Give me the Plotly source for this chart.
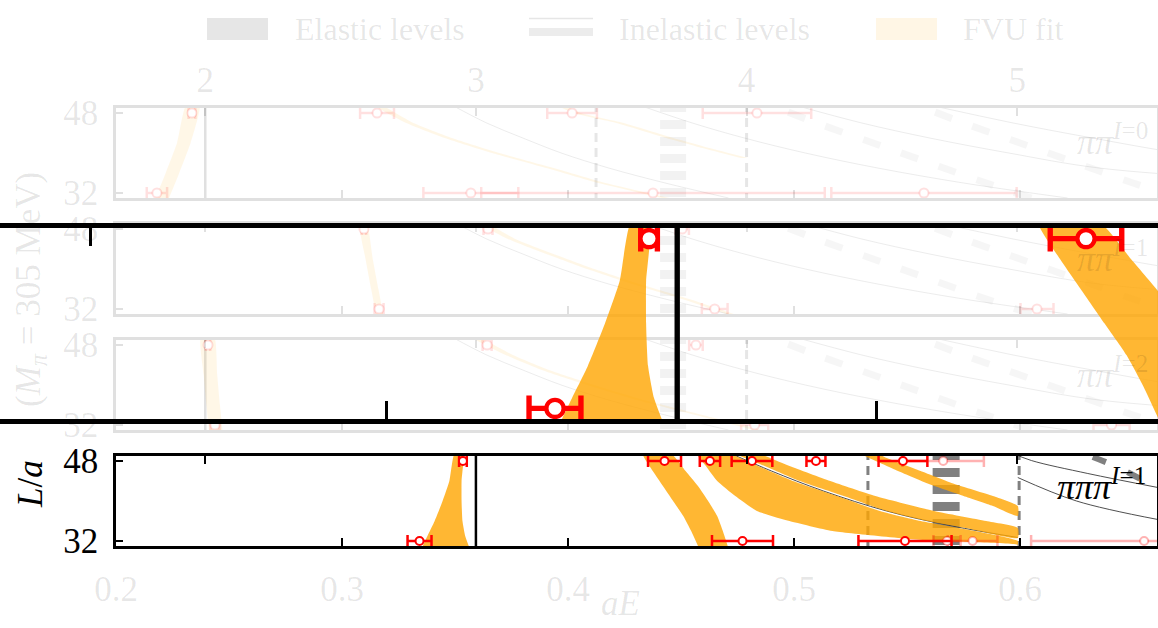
import plotly.graph_objects as go

W, H = 1158, 628
SERIF = "Liberation Serif"

# ------------------------------------------------------------------
# values: aE = energy in lattice units, L/a = box
# ------------------------------------------------------------------
A_MPI = 0.11975                      # a*M_pi, sets the E/M_pi axis on top
E_OVER_MPI = [2, 3, 4, 5]
AE_TICKS = [0.2, 0.3, 0.4, 0.5, 0.6]
L_TICKS = [32, 48]
L_RANGE = [31, 49]
AE_RANGE = [0.2, 0.6606]
ZOOM_RANGE = [0.2210, 0.4574]        # aE window of the magnified strip

# pi pi pi, I=1  (highlighted panel)
PPP_E48 = [0.3535, 0.4427, 0.4628, 0.4814, 0.5097, 0.5482]
PPP_ERR48 = [0.0017, 0.0073, 0.0045, 0.0090, 0.0042, 0.0108]
PPP_E32 = [0.3343, 0.4772, 0.5491]
PPP_ERR32 = [0.0053, 0.0135, 0.0206]
PPP_OUT_E48 = [0.5660]
PPP_OUT_ERR48 = [0.0180]
PPP_OUT_E32 = [0.5677, 0.5790, 0.6549]
PPP_OUT_ERR32 = [0.0060, 0.0110, 0.0500]
PPP_BANDS = [  # (L/a, lower aE, upper aE)
    ([30.5, 33, 36, 40, 44, 49.5],
     [0.3352, 0.3378, 0.3410, 0.3445, 0.3475, 0.3498],
     [0.3565, 0.3545, 0.3533, 0.3529, 0.3529, 0.3536]),
    ([30.5, 34, 37, 40, 43, 46, 49.5],
     [0.4580, 0.4545, 0.4510, 0.4465, 0.4420, 0.4375, 0.4330],
     [0.4710, 0.4685, 0.4660, 0.4620, 0.4575, 0.4520, 0.4455]),
    ([30.5, 31.2, 32, 34, 36, 38, 41, 44, 47, 49.5],
     [0.5990, 0.5990, 0.5620, 0.5170, 0.4980, 0.4836, 0.4740, 0.4660, 0.4610, 0.4570],
     [0.5990, 0.5990, 0.5990, 0.5800, 0.5560, 0.5380, 0.5190, 0.4995, 0.4840, 0.4710]),
    ([32.6, 34.6, 36, 38, 41, 44, 47, 49.5],
     [0.5990, 0.5760, 0.5590, 0.5410, 0.5220, 0.5025, 0.4870, 0.4740],
     [0.5990, 0.5990, 0.5850, 0.5620, 0.5360, 0.5160, 0.4980, 0.4840]),
    ([37, 39, 41, 43.4, 46, 48.8, 49.5],
     [0.5990, 0.5880, 0.5750, 0.5597, 0.5460, 0.5323, 0.5290],
     [0.5990, 0.5990, 0.5880, 0.5710, 0.5560, 0.5400, 0.5370]),
]
PPP_FREE_L = [32.7, 35, 38, 42, 46, 49.5]
PPP_FREE_E = [0.5990, 0.5700, 0.5410, 0.5130, 0.4900, 0.4720]
PPP_RIGHT_L = [[42.7, 45.5, 48.1, 49.5], [36.3, 40, 44.7]]
PPP_RIGHT_E = [[0.661, 0.630, 0.605, 0.597], [0.661, 0.625, 0.599]]
PPP_INEL_L = [41, 44, 47, 49.5]
PPP_INEL_E = [0.668, 0.655, 0.642, 0.628]
PPP_THRESH_SOLID = [0.35925]
PPP_THRESH_DASH = [0.5327, 0.5996]
PPP_BAR = [0.5673]

# pi pi, I=0 / I=1 / I=2  (faded panels)
PP_E48 = [[0.2336, 0.3155, 0.4018, 0.4836],
          [0.3097, 0.3646, 0.4505],
          [0.2407, 0.3642, 0.4566]]
PP_ERR48 = [[0.0015, 0.0075, 0.0110, 0.0240],
            [0.0010, 0.0020, 0.0030],
            [0.0010, 0.0020, 0.0030]]
PP_E32 = [[0.2181, 0.3570, 0.4376, 0.5575],
          [0.3164, 0.4649, 0.6075],
          [0.2438, 0.4826, 0.6405]]
PP_ERR32 = [[0.0045, 0.0210, 0.0760, 0.0410],
            [0.0020, 0.0057, 0.0073],
            [0.0020, 0.0060, 0.0080]]
PP_BAND_L = [[30.5, 36, 42, 49.5],
             [30.5, 34, 37, 40, 43, 46, 49.5],
             [39, 41, 43, 46, 48, 49.5]]
PP_BANDS = [  # centre lines of the fitted levels, per panel
    [[0.2200, 0.2250, 0.2300, 0.2340],
     [0.4480, 0.4150, 0.3920, 0.3680, 0.3470, 0.3300, 0.3160],
     [0.4780, 0.4610, 0.4450, 0.4230, 0.4040, 0.3970]],
    [[0.3168, 0.3145, 0.3120, 0.3092],
     [0.4750, 0.4520, 0.4300, 0.4100, 0.3920, 0.3750, 0.3610]],
    [[0.2442, 0.2430, 0.2418, 0.2405],
     [0.4880, 0.4580, 0.4320, 0.4100, 0.3900, 0.3740, 0.3590]],
]
FREE_L = [31, 34, 37, 40, 43, 46, 49.5]
FREE_E = [[0.471, 0.443, 0.418, 0.397, 0.380, 0.364, 0.349],
          [0.621, 0.575, 0.537, 0.505, 0.478, 0.455, 0.432],
          [0.790, 0.720, 0.635, 0.595, 0.560, 0.530, 0.501],
          [0.850, 0.790, 0.720, 0.670, 0.632, 0.597, 0.561]]
INEL_L = [31, 34, 38, 42, 46, 49.5]
INEL_E = [[0.605, 0.585, 0.560, 0.535, 0.510, 0.490],
          [0.670, 0.650, 0.625, 0.600, 0.575, 0.555]]
PP_THRESH_SOLID = [[0.2395], [], [0.2395]]
PP_THRESH_DASH = [[0.4124, 0.4790], [], [0.4790]]
PP_BAR = [[0.4465], [0.4465], [0.4465]]
PP_NAMES = ["<i>ππ</i><sup><i>I</i>=0</sup>", "<i>ππ</i><sup><i>I</i>=1</sup>",
            "<i>ππ</i><sup><i>I</i>=2</sup>"]

# ------------------------------------------------------------------
FADE = 0.12
GREY_TXT = "rgba(0,0,0,0.1)"
RED = (255, 0, 0)
ORANGE = (255, 165, 0)
GREY = (128, 128, 128)


def rgba(c, a):
    return "rgba(%d,%d,%d,%.3f)" % (c[0], c[1], c[2], a)


def refs(i):
    return ("x" if i == 1 else "x%d" % i), ("y" if i == 1 else "y%d" % i)


fig = go.Figure()


def band(i, L, lo, hi, color):
    xa, ya = refs(i)
    fig.add_trace(go.Scatter(x=list(lo) + list(hi)[::-1], y=list(L) + list(L)[::-1],
                             mode="lines", fill="toself", fillcolor=color,
                             line=dict(width=0, shape="spline", smoothing=0.5),
                             hoverinfo="skip", showlegend=False, xaxis=xa, yaxis=ya))


def curve(i, L, E, color, width, dash="solid"):
    xa, ya = refs(i)
    fig.add_trace(go.Scatter(x=E, y=L, mode="lines",
                             line=dict(color=color, width=width, dash=dash, shape="spline"),
                             hoverinfo="skip", showlegend=False, xaxis=xa, yaxis=ya))


def vlines(i, xs, color, width, dash="solid"):
    for v in xs:
        curve(i, [L_RANGE[1] + 1, L_RANGE[0] - 1], [v, v], color, width, dash)


def points(i, E, err, L, color, size, lw, thick, cap):
    xa, ya = refs(i)
    fig.add_trace(go.Scatter(x=E, y=[L] * len(E), mode="markers",
                             marker=dict(symbol="circle", size=size, color="white",
                                         line=dict(color=color, width=lw)),
                             error_x=dict(type="data", array=err, color=color,
                                          thickness=thick, width=cap),
                             hoverinfo="skip", showlegend=False, xaxis=xa, yaxis=ya))


# ---- faded pi pi panels (1..3) ----
for p in range(3):
    i = p + 1
    vlines(i, PP_BAR[p], rgba(GREY, 0.1), 26, "9px,8px")
    for E in FREE_E:
        curve(i, FREE_L, E, rgba(GREY, 0.15), 1)
    for E in INEL_E:
        curve(i, INEL_L, E, rgba(GREY, 0.07), 7, "18px,22px")
    vlines(i, PP_THRESH_SOLID[p], rgba((0, 0, 0), FADE), 2.5)
    vlines(i, PP_THRESH_DASH[p], rgba(GREY, 0.2), 3, "9px,6px")
    for L, c in zip(PP_BAND_L, PP_BANDS[p]):
        w = 0.003 if c[0] < 0.25 else 0.0016
        band(i, L, [v - w for v in c], [v + w for v in c], rgba(ORANGE, 0.8 * FADE))
    points(i, PP_E48[p], PP_ERR48[p], 48, rgba(RED, FADE), 9, 2, 2.5, 6)
    points(i, PP_E32[p], PP_ERR32[p], 32, rgba(RED, FADE), 9, 2, 2.5, 6)


# ---- pi pi pi panel (4) and its magnified copy (5) ----
def ppp(i, s):
    vlines(i, PPP_BAR, rgba(GREY, 1), 27 * s, "%dpx,%dpx" % (9 * s, 8 * s))
    vlines(i, PPP_THRESH_DASH, rgba(GREY, 1), 3 * s, "%dpx,%dpx" % (9 * s, 6 * s))
    curve(i, PPP_FREE_L, PPP_FREE_E, "rgba(60,60,60,0.9)", 1 * s)
    for L, E in zip(PPP_RIGHT_L, PPP_RIGHT_E):
        curve(i, L, E, "rgba(60,60,60,0.9)", 1 * s)
    curve(i, PPP_INEL_L, PPP_INEL_E, rgba(GREY, 1), 6 * s, "%dpx,%dpx" % (14 * s, 24 * s))
    for L, lo, hi in PPP_BANDS:
        band(i, L, lo, hi, rgba(ORANGE, 0.8))
    vlines(i, PPP_THRESH_SOLID, "black", 2.5 * s)
    points(i, PPP_OUT_E48, PPP_OUT_ERR48, 48, rgba(RED, 0.3), 8 * s, 2 * s, 2.5 * s, 6 * s)
    points(i, PPP_OUT_E32, PPP_OUT_ERR32, 32, rgba(RED, 0.3), 8 * s, 2 * s, 2.5 * s, 6 * s)
    points(i, PPP_E48, PPP_ERR48, 48, rgba(RED, 1), 8 * s, 2 * s, 2.5 * s, 6 * s)
    points(i, PPP_E32, PPP_ERR32, 32, rgba(RED, 1), 8 * s, 2 * s, 2.5 * s, 6 * s)


ppp(4, 1)
ppp(5, 2.15)

# empty traces so the upper E/M_pi axes are created
for i in range(6, 11):
    xa = "x%d" % i
    ya = refs(i - 5)[1]
    fig.add_trace(go.Scatter(x=[None], y=[None], xaxis=xa, yaxis=ya,
                             showlegend=False, hoverinfo="skip"))

# ------------------------------------------------------------------
# axes
# ------------------------------------------------------------------
PANEL_TOP = [108, 224, 340, 456]
PANEL_H = 90
X_DOM = [116 / W, 1157 / W]
top_vals = [e * A_MPI for e in E_OVER_MPI]
lay = {}
for k in range(4):
    i = k + 1
    dark = (i == 4)
    lc = "black" if dark else rgba((0, 0, 0), FADE)
    ydom = [1 - (PANEL_TOP[k] + PANEL_H) / H, 1 - PANEL_TOP[k] / H]
    sx = "" if i == 1 else str(i)
    lay["xaxis" + sx] = dict(
        domain=X_DOM, range=AE_RANGE, anchor="y" + sx, showline=True, mirror=True,
        linecolor=lc, linewidth=2.5, ticks="inside", tickvals=AE_TICKS, ticklen=8,
        tickwidth=2, tickcolor=lc, showgrid=False, zeroline=False, automargin=False,
        showticklabels=dark, ticklabelstandoff=10,
        tickfont=dict(family=SERIF, size=35, color=GREY_TXT))
    lay["yaxis" + sx] = dict(
        domain=ydom, range=L_RANGE, anchor="x" + sx, showline=True, mirror=True,
        linecolor=lc, linewidth=2.5, ticks="inside", tickvals=L_TICKS, ticklen=7,
        tickwidth=2, tickcolor=lc, showgrid=False, zeroline=False, automargin=False,
        ticklabelstandoff=8,
        tickfont=dict(family=SERIF, size=35, color="black" if dark else GREY_TXT))
    lay["xaxis%d" % (i + 5)] = dict(
        overlaying="x" + sx, side="top", anchor="y" + sx, range=AE_RANGE,
        showline=False, ticks="inside", tickvals=top_vals,
        ticktext=[str(e) for e in E_OVER_MPI], ticklen=8, tickwidth=2, tickcolor=lc,
        showgrid=False, zeroline=False, automargin=False,
        showticklabels=(i == 1), ticklabelstandoff=8,
        tickfont=dict(family=SERIF, size=35, color=GREY_TXT))

# magnified strip
lay["xaxis5"] = dict(domain=[0, 1], range=ZOOM_RANGE, anchor="y5", showline=True,
                     mirror=True, linecolor="black", linewidth=5, ticks="inside",
                     tickvals=AE_TICKS, ticklen=18, tickwidth=3, tickcolor="black",
                     showticklabels=False, showgrid=False, zeroline=False, automargin=False)
lay["yaxis5"] = dict(domain=[1 - 419 / H, 1 - 228 / H], range=L_RANGE, anchor="x5",
                     showline=False, ticks="", showticklabels=False,
                     showgrid=False, zeroline=False, automargin=False)
lay["xaxis10"] = dict(overlaying="x5", side="top", anchor="y5", range=ZOOM_RANGE,
                      showline=False, ticks="inside", tickvals=top_vals, ticklen=18,
                      tickwidth=3, tickcolor="black", showticklabels=False,
                      showgrid=False, zeroline=False, automargin=False)

# ------------------------------------------------------------------
# text: panel names, axis titles, hand-made legend
# ------------------------------------------------------------------
ann = []
for k, name in enumerate(PP_NAMES):
    ann.append(dict(x=1150 / W, y=1 - (PANEL_TOP[k] + 32) / H, text=name, xanchor="right",
                    font=dict(family=SERIF, size=36, color=GREY_TXT)))
ann.append(dict(x=1148 / W, y=1 - (PANEL_TOP[3] + 28) / H, xanchor="right",
                text="<i>πππ</i><sup><i>I</i>=1</sup>",
                font=dict(family=SERIF, size=36, color="black")))
ann += [
    dict(x=30 / W, y=1 - 484 / H, text="<i>L</i>/<i>a</i>", textangle=-90,
         xanchor="center", font=dict(family=SERIF, size=35, color="black")),
    dict(x=30 / W, y=1 - 290 / H,
         text="(<i>M</i><sub><i>π</i></sub> = 305 MeV)", textangle=-90,
         xanchor="center", font=dict(family=SERIF, size=35, color=GREY_TXT)),
    dict(x=620 / W, y=1 - 603 / H, text="<i>aE</i>", xanchor="center",
         font=dict(family=SERIF, size=35, color=GREY_TXT)),
]
LEGEND = [("Elastic levels", 293), ("Inelastic levels", 617), ("FVU fit", 961)]
for txt, x0 in LEGEND:
    ann.append(dict(x=x0 / W, y=1 - 29 / H, text=txt, xanchor="left",
                    font=dict(family=SERIF, size=32, color=GREY_TXT)))
for a in ann:
    a.update(xref="paper", yref="paper", showarrow=False, yanchor="middle")

shapes = [
    dict(type="rect", x0=207 / W, x1=268 / W, y0=1 - 40 / H, y1=1 - 18 / H,
         fillcolor=rgba(GREY, 0.2), line=dict(width=0)),
    dict(type="rect", x0=529 / W, x1=593 / W, y0=1 - 36 / H, y1=1 - 28 / H,
         fillcolor=rgba(GREY, 0.15), line=dict(width=0)),
    dict(type="line", x0=529 / W, x1=593 / W, y0=1 - 18.5 / H, y1=1 - 18.5 / H,
         line=dict(color=rgba(GREY, 0.2), width=1.5)),
    dict(type="rect", x0=876 / W, x1=937 / W, y0=1 - 40 / H, y1=1 - 18 / H,
         fillcolor=rgba(ORANGE, 0.1), line=dict(width=0)),
]
for s in shapes:
    s.update(xref="paper", yref="paper")

fig.update_layout(width=W, height=H, margin=dict(l=0, r=0, t=0, b=0),
                  paper_bgcolor="white", plot_bgcolor="rgba(0,0,0,0)",
                  showlegend=False, annotations=ann, shapes=shapes, **lay)
fig.write_html("out.html", config={"displayModeBar": False},
               post_script="document.body.style.margin='0px';")
